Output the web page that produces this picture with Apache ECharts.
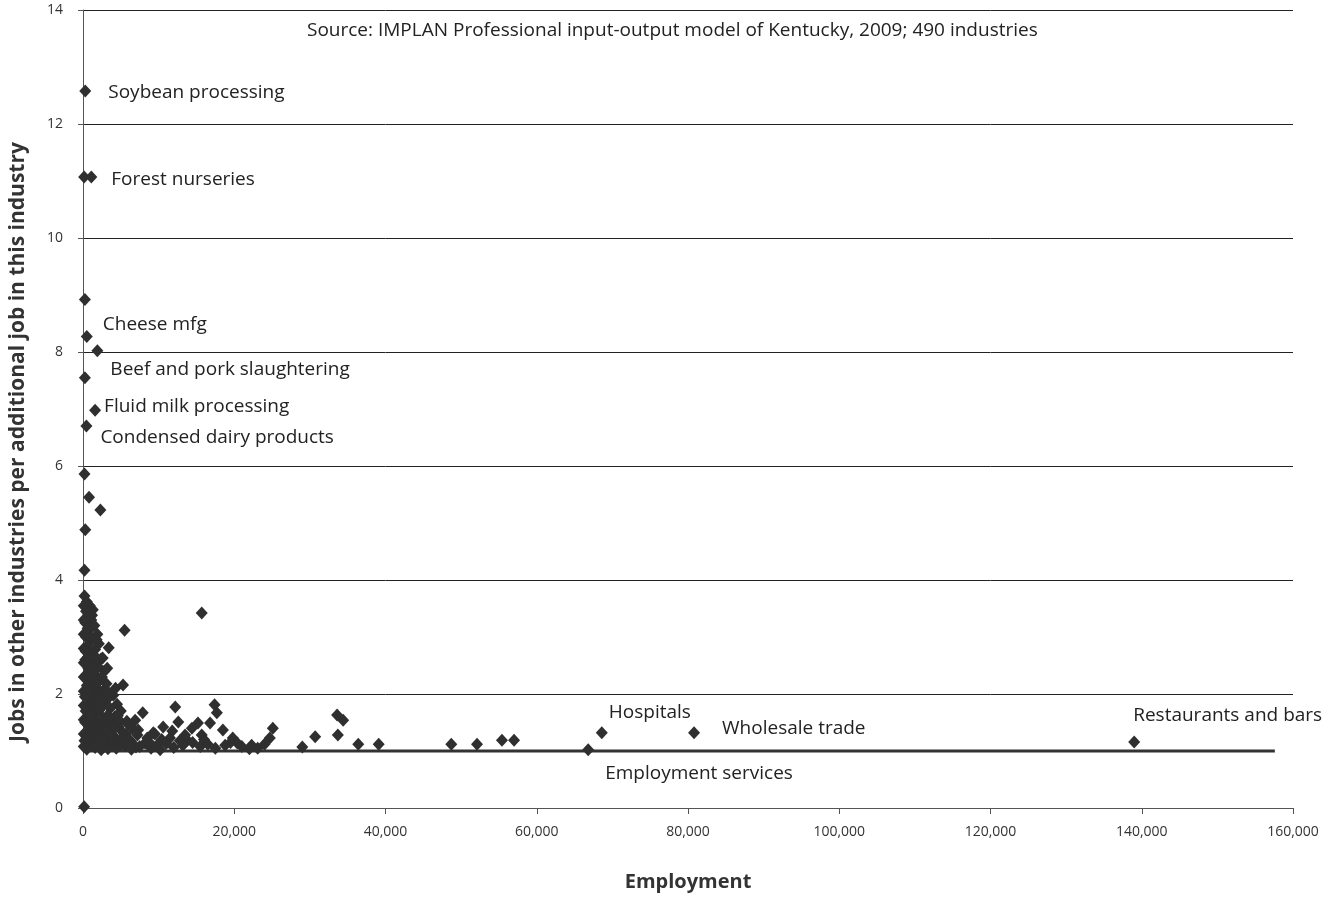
<!DOCTYPE html>
<html>
<head>
<meta charset="utf-8">
<title>Employment multipliers, Kentucky</title>
<script src="https://cdn.jsdelivr.net/npm/echarts@6/dist/echarts.min.js"></script>
<style>
	html, body { margin: 0; padding: 0; background: #fff; }
	#main { width: 1335px; height: 900px; }
</style>
</head>
<body>
<div id="main"></div>
<script>
// x tick labels
var xTicks = [0, 20000, 40000, 60000, 80000, 100000, 120000, 140000, 160000];

// named industries [employment, jobs multiplier, name]
var named = [
	[300, 12.58, 'Soybean processing'],
	[1100, 11.07, 'Forest nurseries'],
	[500, 8.27, 'Cheese mfg'],
	[1900, 8.02, 'Beef and pork slaughtering'],
	[1600, 6.98, 'Fluid milk processing'],
	[450, 6.70, 'Condensed dairy products'],
	[68600, 1.32, 'Hospitals'],
	[80800, 1.32, 'Wholesale trade'],
	[139000, 1.16, 'Restaurants and bars'],
	[66800, 1.02, 'Employment services']
];

// all other industries [employment, jobs multiplier]
var others = [
	[150, 11.07], [250, 8.92], [250, 7.55], [200, 5.86], [800, 5.45], [2300, 5.23],
	[300, 4.88], [200, 4.17], [150, 0.02],
	[200, 3.72], [500, 3.62], [900, 3.55], [1300, 3.48], [700, 3.40], [1100, 3.30],
	[300, 3.25], [1500, 3.20], [800, 3.12], [1900, 3.05], [400, 3.00], [1200, 2.95],
	[2100, 2.88], [600, 2.85], [1600, 2.78], [900, 2.70], [2400, 2.62], [300, 2.60],
	[1300, 2.55], [2000, 2.48], [700, 2.45], [2800, 2.40], [1500, 2.35], [400, 2.30],
	[2300, 2.25], [1000, 2.22], [3100, 2.18], [1800, 2.12], [600, 2.10], [2600, 2.05],
	[3400, 2.02], [1200, 2.00], [4000, 1.98], [2100, 1.95], [800, 1.92], [3000, 1.88],
	[1600, 1.85], [4500, 1.82], [400, 1.80], [2500, 1.78], [3600, 1.75], [1100, 1.72],
	[5000, 1.70], [2000, 1.68], [700, 1.65], [3200, 1.62], [4200, 1.60], [1500, 1.58],
	[2800, 1.55], [5800, 1.52], [300, 1.50], [3800, 1.48], [2300, 1.46], [1000, 1.44],
	[4700, 1.42], [6500, 1.40], [1800, 1.38], [3400, 1.36], [600, 1.34], [5300, 1.32],
	[2600, 1.30], [7200, 1.28], [4100, 1.26], [1300, 1.24], [3000, 1.22], [6000, 1.20],
	[200, 1.18], [2100, 1.16], [4800, 1.15], [8200, 1.14], [3700, 1.12], [900, 1.10],
	[5600, 1.09], [2800, 1.08], [7000, 1.07], [1600, 1.06], [4400, 1.05], [9000, 1.05],
	[3300, 1.04], [500, 1.03], [6400, 1.03], [2400, 1.02], [10200, 1.02],
	[100, 3.55], [100, 3.30], [100, 3.05], [100, 2.80], [100, 2.55], [100, 2.30],
	[100, 2.05], [100, 1.80], [100, 1.55], [100, 1.30], [100, 1.08], [400, 3.45],
	[600, 3.15], [350, 2.75], [800, 2.40], [500, 2.15], [900, 1.95], [350, 1.70],
	[700, 1.45], [450, 1.22], [1000, 3.00], [1400, 2.65], [1100, 2.45], [1700, 2.20],
	[1300, 1.78], [1900, 1.50], [1400, 1.12], [2200, 1.72], [2700, 1.90], [3500, 1.60],
	[2900, 1.35], [3900, 1.20], [4600, 1.62], [5100, 1.12], [250, 1.95], [650, 2.65],
	[1200, 3.38], [1800, 2.95], [2500, 2.30], [3200, 2.45], [4300, 2.10], [5300, 2.16],
	[3400, 2.81], [2600, 2.63], [5500, 3.12], [15700, 3.42],
	[1700, 1.95], [2400, 1.60], [3100, 1.42], [3600, 1.30], [4200, 1.40], [2000, 1.28],
	[1500, 1.40], [2700, 1.18], [3500, 1.95], [4900, 1.52], [5700, 1.30], [6300, 1.18],
	[1000, 1.62], [1900, 1.82], [2900, 2.05], [800, 2.05], [1300, 2.30], [1900, 2.62],
	[12200, 1.77], [17400, 1.81], [7900, 1.67], [12600, 1.51], [15200, 1.49], [14400, 1.40],
	[10600, 1.42], [5800, 1.49], [7300, 1.37], [6900, 1.54], [17700, 1.67], [9300, 1.32],
	[16800, 1.49], [18500, 1.37], [19800, 1.23], [20400, 1.14], [22300, 1.10], [25100, 1.40],
	[24700, 1.23], [23100, 1.05], [29000, 1.07], [13800, 1.19], [15700, 1.28], [8500, 1.23],
	[11500, 1.23], [5300, 1.25], [6000, 1.12], [7500, 1.08], [8800, 1.15], [9800, 1.10],
	[11000, 1.13], [12000, 1.06], [13200, 1.10], [14500, 1.15], [15500, 1.08], [16500, 1.12],
	[17500, 1.05], [18800, 1.10], [19500, 1.15], [21000, 1.08], [22000, 1.04], [24000, 1.12],
	[10400, 1.20], [12800, 1.18], [16000, 1.20], [9500, 1.30], [11800, 1.35], [13500, 1.28],
	[30700, 1.25], [33600, 1.63], [34400, 1.54], [33700, 1.28], [36400, 1.12], [39100, 1.12],
	[48700, 1.12], [52100, 1.12], [55400, 1.19], [57000, 1.19]
];

// the one-job-per-job reference line
var baseLine = [[0, 1], [157600, 1]];

// label offsets for the named industries
var labelOffsets = {
	'Soybean processing': [12, 2],
	'Forest nurseries': [9, 3],
	'Cheese mfg': [5, -12],
	'Beef and pork slaughtering': [2, 19],
	'Fluid milk processing': [-2, -4],
	'Condensed dairy products': [3, 11],
	'Hospitals': [-4, -20],
	'Wholesale trade': [17, -4],
	'Restaurants and bars': [-12, -26],
	'Employment services': [6, 24]
};

function drawChart() {
	var myChart = echarts.init(document.getElementById('main'));
	var font = '"Open Sans", "Noto Sans", sans-serif';

	var namedData = named.map(function(d) {
		return {
			value: [d[0], d[1]],
			name: d[2],
			label: {
				show: true,
				position: 'right',
				offset: labelOffsets[d[2]],
				formatter: d[2],
				color: '#222',
				fontSize: 19,
				fontFamily: font
			}
		};
	});

	var option = {
		animation: false,
		textStyle: { fontFamily: font },
		title: {
			text: 'Source: IMPLAN Professional input-output model of Kentucky, 2009; 490 industries',
			left: 302,
			top: 16,
			textStyle: { fontSize: 19, fontWeight: 'normal', color: '#222', fontFamily: font }
		},
		// y axis title drawn by hand so it can sit where the original has it
		graphic: [{
			type: 'text',
			x: 18,
			y: 442,
			rotation: Math.PI / 2,
			style: {
				text: 'Jobs in other industries per additional job in this industry',
				fill: '#333',
				font: 'bold 21px ' + font,
				align: 'center',
				verticalAlign: 'middle'
			}
		}],
		grid: { left: 83, right: 42, top: 10, bottom: 92 },
		xAxis: {
			type: 'value',
			min: 0,
			max: 160000,
			interval: 20000,
			name: 'Employment',
			nameLocation: 'middle',
			nameGap: 64,
			nameTextStyle: { fontSize: 20, fontWeight: 'bold', color: '#333' },
			axisLine: { show: true, lineStyle: { color: '#555', width: 1 } },
			axisTick: { show: true, length: 6, lineStyle: { color: '#555' } },
			axisLabel: {
				margin: 17,
				fontSize: 14,
				color: '#333',
				formatter: function(v) { return v.toLocaleString('en-US'); }
			},
			splitLine: { show: false }
		},
		yAxis: {
			type: 'value',
			min: 0,
			max: 14,
			interval: 2,
			axisLine: { show: true, lineStyle: { color: '#555', width: 1 } },
			axisTick: { show: true, length: 5, lineStyle: { color: '#555' } },
			axisLabel: { margin: 20, fontSize: 14, color: '#333' },
			splitLine: { show: true, lineStyle: { color: '#222', width: 1 } }
		},
		series: [{
			name: 'base',
			type: 'line',
			data: baseLine,
			symbol: 'none',
			silent: true,
			lineStyle: { color: '#333', width: 3 },
			z: 1
		}, {
			name: 'industries',
			type: 'scatter',
			data: others,
			symbol: 'diamond',
			symbolSize: [12, 13],
			itemStyle: { color: '#2f2f2f', opacity: 1 },
			z: 3
		}, {
			name: 'named',
			type: 'scatter',
			data: namedData,
			symbol: 'diamond',
			symbolSize: [12, 13],
			itemStyle: { color: '#2f2f2f', opacity: 1 },
			z: 4
		}]
	};
	myChart.setOption(option);
}

drawChart();
</script>
</body>
</html>
